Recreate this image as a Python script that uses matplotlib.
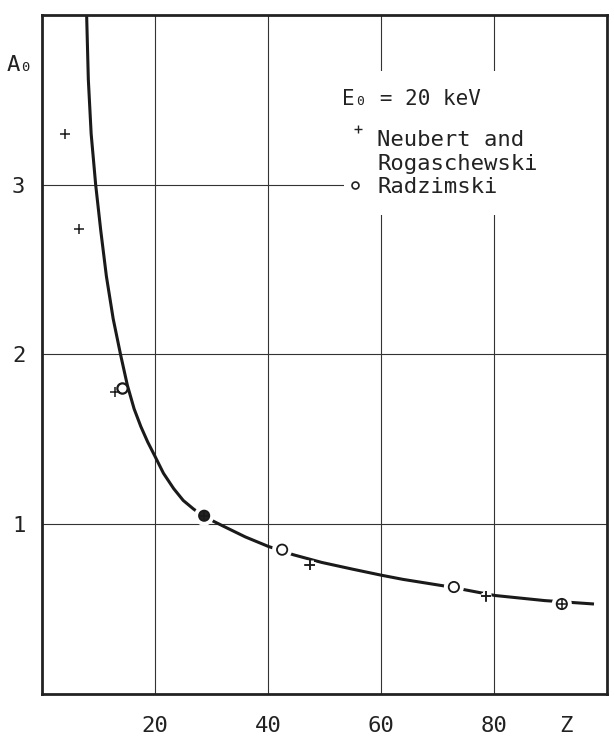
import matplotlib
matplotlib.use("Agg")
import matplotlib.pyplot as plt
import matplotlib.patheffects as pe
from matplotlib.patches import Rectangle

plt.rcParams['font.family'] = ['DejaVu Sans Mono', 'DejaVu Sans']

# curve (Z, A0)
curve_z = [7.9, 8.2, 8.7, 9.5, 10.4, 11.4, 12.6, 13.9, 15.1, 16.3, 17.5, 18.7,
           20.0, 21.5, 23.3, 25.0, 26.8, 28.7, 32.0, 36.0, 40.0, 44.5, 49.5,
           55.0, 60.0, 63.9, 71.8, 80.2, 89.0, 97.7]
curve_a = [4.0, 3.62, 3.30, 3.00, 2.73, 2.46, 2.21, 2.00, 1.82, 1.68, 1.575, 1.485,
           1.40, 1.30, 1.21, 1.14, 1.09, 1.045, 0.99, 0.925, 0.87, 0.82, 0.775,
           0.735, 0.70, 0.675, 0.633, 0.58, 0.55, 0.53]

# Neubert and Rogaschewski (+)
neubert_z = [4.1, 6.5, 12.9, 28.7, 47.4, 78.6, 92.0]
neubert_a = [3.30, 2.74, 1.78, 1.05, 0.76, 0.575, 0.53]

# Radzimski (o)
radz_z = [14.2, 28.7, 42.5, 72.9, 92.0]
radz_a = [1.80, 1.05, 0.85, 0.63, 0.53]
radz_face = ['white', '#222222', 'white', 'white', 'white']

xticks = [20, 40, 60, 80]
yticks = [1, 2, 3]

fig = plt.figure(figsize=(6.14, 7.45), dpi=100)
ax = fig.add_axes([0.0684, 0.0685, 0.9202, 0.9114])
ax.set_xlim(0, 100)
ax.set_ylim(0, 4)

ax.set_xticks(xticks)
ax.set_xticklabels([str(t) for t in xticks])
ax.set_yticks(yticks)
ax.set_yticklabels([str(t) for t in yticks])
ax.set_xticks([92.7], minor=True)
ax.set_xticklabels(['Z'], minor=True)
ax.set_yticks([3.72], minor=True)
ax.set_yticklabels(['A₀'], minor=True)
ax.tick_params(which='both', length=0, labelsize=16, colors='#222222')
ax.tick_params(axis='x', which='both', pad=16)
ax.tick_params(axis='y', which='major', pad=12)
ax.tick_params(axis='y', which='minor', pad=6)

ax.grid(True, which='major', color='#333333', linewidth=0.8)
ax.set_axisbelow(True)
for s in ax.spines.values():
    s.set_linewidth(2.0)
    s.set_color('#222222')

# white area behind the key
ax.add_patch(Rectangle((53.5, 2.82), 46.5, 0.85, facecolor='white',
                       edgecolor='none', zorder=1))

ax.plot(curve_z, curve_a, color='#1a1a1a', linewidth=2.2, zorder=2,
        solid_capstyle='butt', solid_joinstyle='round')

# white halos break the curve around the points, as in the drawing
halo = [pe.withStroke(linewidth=7, foreground='white')]
halo_small = [pe.withStroke(linewidth=5, foreground='white')]
far_r = [i for i, z in enumerate(radz_z) if z > 25]
near_r = [i for i, z in enumerate(radz_z) if z <= 25]
far_n = [i for i, z in enumerate(neubert_z) if z > 25]

ax.scatter([neubert_z[i] for i in far_n], [neubert_a[i] for i in far_n], s=60,
           marker='+', color='#1a1a1a', linewidths=1.1, zorder=2.5,
           path_effects=halo_small)
ax.scatter([radz_z[i] for i in far_r], [radz_a[i] for i in far_r], s=55,
           facecolors=[radz_face[i] for i in far_r], edgecolors='#1a1a1a',
           linewidths=1.3, zorder=3, path_effects=halo)
ax.scatter([radz_z[i] for i in near_r], [radz_a[i] for i in near_r], s=55,
           facecolors=[radz_face[i] for i in near_r], edgecolors='#1a1a1a',
           linewidths=1.6, zorder=3)
ax.scatter(neubert_z, neubert_a, s=60, marker='+', color='#1a1a1a',
           linewidths=1.1, zorder=4)

# key
ax.text(53.1, 3.47, 'E₀ = 20 keV', fontsize=15, color='#222222',
        va='baseline', ha='left', zorder=5)
ax.plot([55.9], [3.33], marker='+', markersize=6, mew=1.0, color='#222222',
        zorder=5)
ax.text(59.3, 3.23, 'Neubert and', fontsize=16, color='#222222',
        va='baseline', ha='left', zorder=5)
ax.text(59.3, 3.085, 'Rogaschewski', fontsize=16, color='#222222',
        va='baseline', ha='left', zorder=5)
ax.plot([55.4], [3.0], marker='o', markersize=5, mfc='white', mec='#222222',
        mew=1.2, zorder=5)
ax.text(59.3, 2.95, 'Radzimski', fontsize=16, color='#222222',
        va='baseline', ha='left', zorder=5)

fig.savefig('out.png', dpi=100)
